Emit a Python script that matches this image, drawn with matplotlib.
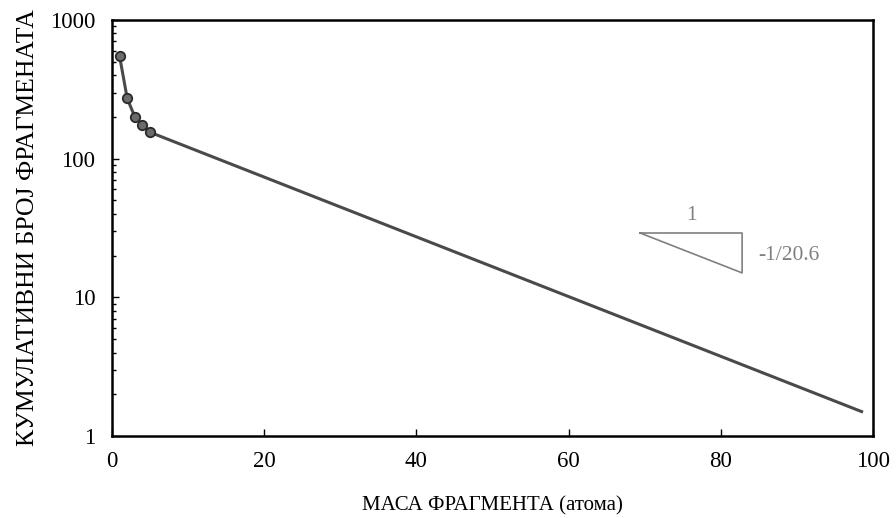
"""Cumulative fragment count vs. fragment mass, log scale"""

import numpy as np
import matplotlib.pyplot as plt

plt.rcParams["font.family"] = ["Liberation Serif", "DejaVu Serif"]

# Measured cumulative counts for the smallest fragments
mass = [1, 2, 3, 4, 5]
count = [547, 272, 200, 176, 155]

# Exponential tail, drawn as a straight line on the log axis
fit_mass = [5, 98.5]
fit_count = [155, 1.5]

# Slope triangle
tri_x = [69.4, 82.8, 82.8, 69.4]
tri_y = [29.1, 29.1, 15.0, 29.1]
slope_label = "-1/20.6"

LINE_COLOR = "#4a4a4a"
TRI_COLOR = "#808080"

fig = plt.figure(figsize=(8.96, 5.18), dpi=100)
ax = fig.add_axes([112 / 896, 1 - 436 / 518, (873 - 112) / 896, (436 - 20) / 518])

ax.plot(fit_mass, fit_count, color=LINE_COLOR, lw=2.2, zorder=2)
ax.plot(mass, count, color=LINE_COLOR, lw=2.2, marker="o", ms=6.8,
        markerfacecolor="#6b6b6b", markeredgecolor="#2a2a2a", markeredgewidth=1.3, zorder=3)

ax.plot(tri_x, tri_y, color=TRI_COLOR, lw=1.2)
ax.text(np.mean(tri_x[:2]), 33.0, "1", ha="center", va="bottom", fontsize=15.5, color=TRI_COLOR)
ax.text(84.9, 20.0, slope_label, ha="left", va="center", fontsize=15.5, color=TRI_COLOR)

ax.set_yscale("log")
ax.set_xlim(0, 100)
ax.set_ylim(1, 1000)
ax.set_xticks([0, 20, 40, 60, 80, 100])
ax.set_yticks([1, 10, 100, 1000])
ax.set_yticklabels(["1", "10", "100", "1000"])
ax.xaxis.set_minor_locator(plt.NullLocator())

ax.tick_params(which="both", direction="in", labelsize=16.5, colors="black")
ax.tick_params(which="major", length=5, width=1)
ax.tick_params(which="minor", length=3, width=1)
ax.tick_params(axis="x", pad=11)
ax.tick_params(axis="y", pad=12)
for spine in ax.spines.values():
    spine.set_linewidth(1.8)

ax.set_xlabel("МАСА ФРАГМЕНТА (атома)", fontsize=15, labelpad=17)
ax.set_ylabel("КУМУЛАТИВНИ БРОЈ ФРАГМЕНАТА", fontsize=18.5, labelpad=8)

fig.savefig("out.png", dpi=100)
